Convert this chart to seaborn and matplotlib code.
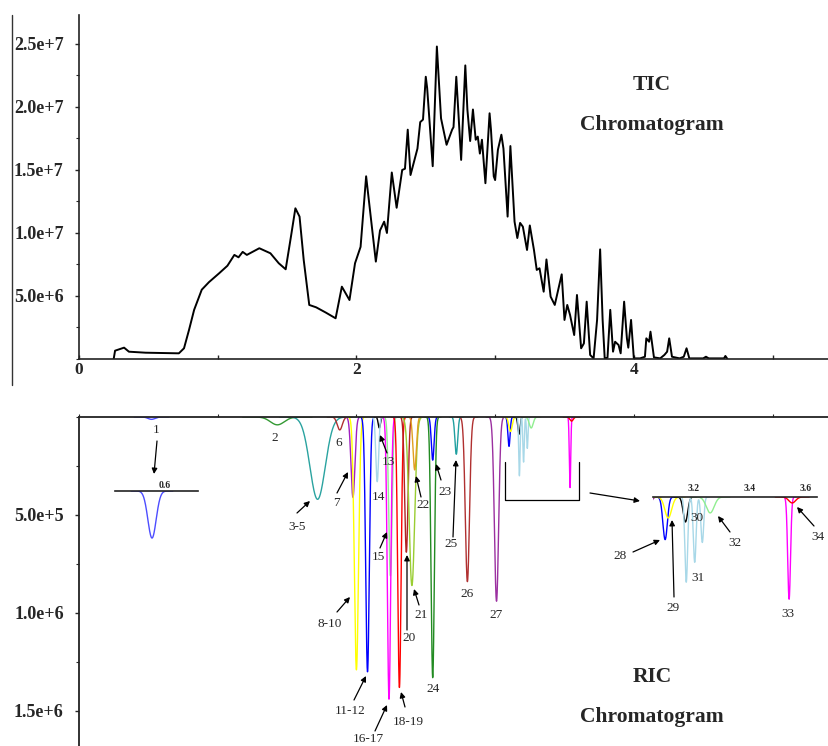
import numpy as np
import pandas as pd
import matplotlib
matplotlib.use("Agg")
import matplotlib.pyplot as plt
from matplotlib.lines import Line2D
from matplotlib.ticker import MultipleLocator
import seaborn as sns

# ---- TIC trace (time, intensity x1e6) ----
tic_time = [0.25, 0.26, 0.325, 0.36, 0.48, 0.72, 0.757, 0.793, 0.83, 0.885,
            0.937, 1.01, 1.07, 1.12, 1.15, 1.18, 1.21, 1.30, 1.38, 1.44,
            1.49, 1.53, 1.56, 1.59, 1.62, 1.66, 1.71, 1.78, 1.85, 1.895,
            1.95, 1.99, 2.03, 2.07, 2.10, 2.14, 2.17, 2.20, 2.22, 2.255,
            2.29, 2.33, 2.35, 2.37, 2.39, 2.44, 2.46, 2.48, 2.50, 2.51,
            2.55, 2.58, 2.61, 2.65, 2.69, 2.70, 2.72, 2.755, 2.785, 2.80,
            2.82, 2.84, 2.86, 2.875, 2.89, 2.905, 2.93, 2.96, 2.97, 2.99,
            3.00, 3.02, 3.045, 3.06, 3.09, 3.11, 3.14, 3.16, 3.18, 3.20,
            3.23, 3.25, 3.28, 3.30, 3.32, 3.35, 3.37, 3.40, 3.43, 3.48,
            3.50, 3.52, 3.54, 3.57, 3.59, 3.62, 3.64, 3.66, 3.685, 3.71,
            3.735, 3.757, 3.775, 3.79, 3.81, 3.83, 3.85, 3.865, 3.89, 3.905,
            3.93, 3.95, 3.96, 3.98, 4.00, 4.045, 4.08, 4.09, 4.11, 4.12,
            4.145, 4.19, 4.22, 4.24, 4.255, 4.275, 4.33, 4.36, 4.38, 4.40,
            4.50, 4.52, 4.54, 4.65, 4.66, 4.675]
tic_int = [0, 0.66, 0.9, 0.58, 0.5, 0.45, 0.85, 2.3, 3.9, 5.5,
           6.1, 6.8, 7.4, 8.26, 8.07, 8.5, 8.26, 8.79, 8.39, 7.6,
           7.12, 9.85, 11.96, 11.3, 7.86, 4.29, 4.1, 3.68, 3.23, 5.74,
           4.68, 7.6, 8.9, 14.5, 11.6, 7.73, 10.2, 10.9, 10.0, 14.8,
           12.0, 15.0, 15.1, 18.2, 14.6, 16.7, 18.8, 19.0, 22.4, 21.5,
           15.3, 24.8, 19.1, 17.0, 18.2, 18.4, 22.4, 15.8, 23.3, 19.8,
           17.3, 19.8, 17.4, 17.65, 16.3, 17.4, 13.95, 19.5, 18.2, 14.5,
           14.2, 16.6, 17.8, 16.7, 11.3, 16.9, 10.9, 9.6, 10.8, 10.5,
           8.65, 10.6, 8.65, 7.07, 7.2, 5.34, 7.9, 4.95, 4.29, 6.72,
           3.1, 4.29, 3.5, 1.9, 5.08, 0.85, 1.24, 4.55, 0.32, 0.05,
           3.1, 8.7, 3.1, 0.05, 0.1, 3.9, 0.58, 1.37, 1.11, 0.45,
           4.55, 1.64, 0.9, 3.1, 0.05, 0.05, 0.18, 1.64, 1.37, 2.17,
           0.13, 0.05, 0.32, 0.58, 1.64, 0.18, 0.05, 0.18, 0.85, 0.05,
           0.05, 0.18, 0.05, 0.05, 0.24, 0.0]

# ---- RIC peak table (label, colour, retention time, depth, width) ----
ric_label = ["1", "2", "3-5", "6", "7", "8-10", "11-12", "13", "14", "15",
             "16-17", "18-19", "20", "21", "22", "23", "24", "25", "26", "27",
             "28", "29", "30", "31", "31", "31", "32", "33", "34"]
ric_color = ["#4d4dff", "#339933", "#2aa3a0", "#b03030", "#a020c0", "#ffff00",
             "#0000ff", "#000000", "#a8d8e8", "#90ee90", "#ff00ff", "#ff0000",
             "#b22222", "#9acd32", "#e0a020", "#0000ff", "#228b22", "#20a0a0",
             "#b03030", "#9b30a0", "#0000ff", "#ffff00", "#000000", "#a8d8e8",
             "#a8d8e8", "#a8d8e8", "#90ee90", "#ff00ff", "#ff0000"]
ric_time = [0.523, 1.43, 1.72, 1.88, 1.975, 2.00, 2.08, 2.165, 2.15, 2.245,
            2.235, 2.31, 2.36, 2.40, 2.42, 2.55, 2.55, 2.72, 2.80, 3.01,
            3.10, 3.111, 3.172, 3.175, 3.205, 3.232, 3.26, 3.54, 3.551]
ric_depth = [1.2e4, 4e4, 4.2e5, 6.6e4, 4.1e5, 1.29e6, 1.30e6, 5.6e4, 3.3e5, 8.1e5,
             1.44e6, 1.38e6, 6.9e5, 8.6e5, 2.7e5, 2.2e5, 1.33e6, 1.9e5, 8.4e5, 9.4e5,
             1.5e5, 7.4e4, 8.8e4, 3.0e5, 2.3e5, 1.6e5, 5.6e4, 3.6e5, 2.1e4]
ric_width = [0.025, 0.05, 0.055, 0.018, 0.014, 0.015, 0.013, 0.008, 0.01, 0.012,
             0.012, 0.012, 0.012, 0.02, 0.012, 0.01, 0.012, 0.01, 0.015, 0.015,
             0.008, 0.012, 0.008, 0.005, 0.005, 0.005, 0.014, 0.005, 0.012]

tic_yticks = [5e6, 1e7, 1.5e7, 2e7, 2.5e7]
tic_yticklabels = ["5.0e+6", "1.0e+7", "1.5e+7", "2.0e+7", "2.5e+7"]
tic_xticks = [0, 2, 4]
tic_xticklabels = ["0", "2", "4"]
ric_yticks = [5e5, 1e6, 1.5e6]
ric_yticklabels = ["5.0e+5", "1.0e+6", "1.5e+6"]
zoom1_xticks = [0.6]
zoom1_xticklabels = ["0.6"]
zoom2_xticks = [3.2, 3.4, 3.6]
zoom2_xticklabels = ["3.2", "3.4", "3.6"]

sns.set_style("ticks")
plt.rcParams['font.family'] = ['Liberation Serif', 'DejaVu Serif']

W, H = 829, 746
fig = plt.figure(figsize=(W / 100, H / 100), dpi=100)


def box(x0, y0, x1, y1):
    # pixel box (top-left origin) -> figure fraction rect
    return [x0 / W, 1 - y1 / H, (x1 - x0) / W, (y1 - y0) / H]


def fp(x, y):
    return (x / W, 1 - y / H)


ax_tic = fig.add_axes(box(79, 15, 829, 359))
ax_ric = fig.add_axes(box(79, 417, 829, 746))
ax_z1 = fig.add_axes(box(115, 491, 198, 560))
ax_z2 = fig.add_axes(box(653, 497, 817, 620))

# TIC
sns.lineplot(x=tic_time, y=np.array(tic_int) * 1e6, color="black", lw=1.4, ax=ax_tic)
ax_tic.set_xlim(0, 5.407)
ax_tic.set_ylim(0, 2.73e7)
sns.despine(ax=ax_tic)
for s in ["left", "bottom"]:
    ax_tic.spines[s].set_color("#222222")
    ax_tic.spines[s].set_linewidth(1.2)
ax_tic.set_yticks(tic_yticks, tic_yticklabels, fontweight="bold", fontsize=13)
ax_tic.set_xticks(tic_xticks, tic_xticklabels, fontweight="bold", fontsize=12.5)
ax_tic.yaxis.set_minor_locator(MultipleLocator(2.5e6))
ax_tic.xaxis.set_minor_locator(MultipleLocator(1))
ax_tic.tick_params(axis="y", which="major", direction="out", length=3, width=1, pad=8)
ax_tic.tick_params(axis="y", which="minor", direction="out", length=2, width=0.8)
ax_tic.tick_params(axis="x", which="both", direction="in", length=3, width=1, pad=2)

# RIC peaks (drawn downward)
peaks = pd.DataFrame({"label": ric_label, "color": ric_color, "time": ric_time,
                      "depth": ric_depth, "width": ric_width})
for (lab, col), grp in peaks.groupby(["label", "color"], sort=False):
    t = np.linspace((grp.time - 5 * grp.width).min(), (grp.time + 5 * grp.width).max(), 400)
    y = np.zeros_like(t)
    for c, d, w in zip(grp.time, grp.depth, grp.width):
        y += d * np.exp(-0.5 * ((t - c) / w) ** 2)
    for ax in (ax_ric, ax_z1, ax_z2):
        sns.lineplot(x=t, y=y, color=col, lw=1.0, ax=ax, sort=False, estimator=None)

ax_ric.set_xlim(0, 5.407)
ax_ric.set_ylim(1.6786e6, 0)
ax_ric.spines["bottom"].set_visible(False)
ax_ric.spines["right"].set_visible(False)
for s in ["left", "top"]:
    ax_ric.spines[s].set_color("#222222")
    ax_ric.spines[s].set_linewidth(1.3)
ax_ric.set_yticks(ric_yticks, ric_yticklabels, fontweight="bold", fontsize=13)
ax_ric.yaxis.set_minor_locator(MultipleLocator(2.5e5))
ax_ric.xaxis.tick_top()
ax_ric.xaxis.set_major_locator(MultipleLocator(1))
ax_ric.tick_params(axis="x", which="both", direction="out", length=2, labeltop=False)
ax_ric.tick_params(axis="y", which="major", direction="out", length=3, width=1, pad=8)
ax_ric.tick_params(axis="y", which="minor", direction="out", length=2, width=0.8)

# small zoom of peak 1
ax_z1.set_xlim(0.3, 0.8)
ax_z1.set_ylim(1.76e4, 0)
ax_z2.set_xlim(3.057, 3.639)
ax_z2.set_ylim(4.33e5, 0)
for ax, ticks, labs, pad in ((ax_z1, zoom1_xticks, zoom1_xticklabels, 0.5),
                             (ax_z2, zoom2_xticks, zoom2_xticklabels, 3)):
    ax.patch.set_alpha(0)
    for s in ["left", "right", "bottom"]:
        ax.spines[s].set_visible(False)
    ax.spines["top"].set_color("#222222")
    ax.spines["top"].set_linewidth(1.2)
    ax.xaxis.tick_top()
    ax.set_xticks(ticks, labs, fontweight="bold", fontsize=7)
    ax.set_yticks([])
    ax.tick_params(axis="x", length=0, pad=pad)
    ax.set_xlabel("")
    ax.set_ylabel("")
for ax in (ax_tic, ax_ric):
    ax.set_xlabel("")
    ax.set_ylabel("")

# titles
for txt, x, y in [("TIC", 652, 85), ("Chromatogram", 652, 125),
                  ("RIC", 652, 677), ("Chromatogram", 652, 717)]:
    fig.text(*fp(x, y), txt, ha="center", va="center", fontsize=15.5, fontweight="bold")

# peak labels
peak_text = [("1", 156, 430), ("2", 275, 438), ("3-5", 297, 527), ("6", 339, 443),
             ("7", 336, 503), ("8-10", 330, 624), ("11-12", 350, 711), ("13", 388, 462),
             ("14", 378, 497), ("15", 378, 557), ("16-17", 368, 739), ("18-19", 408, 722),
             ("20", 409, 638), ("21", 421, 615), ("22", 423, 505), ("23", 445, 492),
             ("24", 433, 689), ("25", 451, 544), ("26", 467, 594), ("27", 496, 615),
             ("28", 620, 556), ("29", 673, 608), ("30", 697, 518), ("31", 698, 578),
             ("32", 735, 543), ("33", 788, 614), ("34", 818, 537)]
for txt, x, y in peak_text:
    fig.text(*fp(x, y), txt, ha="center", va="center", fontsize=9.5)

arrows = [((157, 441), (154, 474)), ((297, 513), (310, 501)), ((337, 493), (348, 472)),
          ((337, 612), (350, 597)), ((354, 700), (366, 676)), ((387, 453), (380, 435)),
          ((380, 548), (387, 532)), ((375, 731), (387, 705)), ((405, 707), (401, 692)),
          ((407, 630), (407, 555)), ((419, 605), (414, 589)), ((421, 497), (416, 476)),
          ((441, 480), (436, 464)), ((453, 537), (456, 460)), ((633, 552), (660, 540)),
          ((674, 597), (672, 520)), ((730, 532), (718, 516)), ((814, 526), (797, 507)),
          ((590, 493), (640, 501))]
for start, tip in arrows:
    ax_ric.annotate("", xy=fp(*tip), xycoords="figure fraction",
                    xytext=fp(*start), textcoords="figure fraction",
                    annotation_clip=False,
                    arrowprops=dict(arrowstyle="-|>", color="black", lw=0.9,
                                    mutation_scale=8, shrinkA=0, shrinkB=0))

# bracket around the zoomed region and frame line at left
bx, by = zip(*[fp(505, 462), fp(505, 500), fp(579, 500), fp(579, 462)])
fig.add_artist(Line2D(bx, by, color="black", lw=0.9))
lx, ly = zip(*[fp(12, 15), fp(12, 385)])
fig.add_artist(Line2D(lx, ly, color="#333333", lw=1.0))

fig.savefig("out.png", dpi=100)
